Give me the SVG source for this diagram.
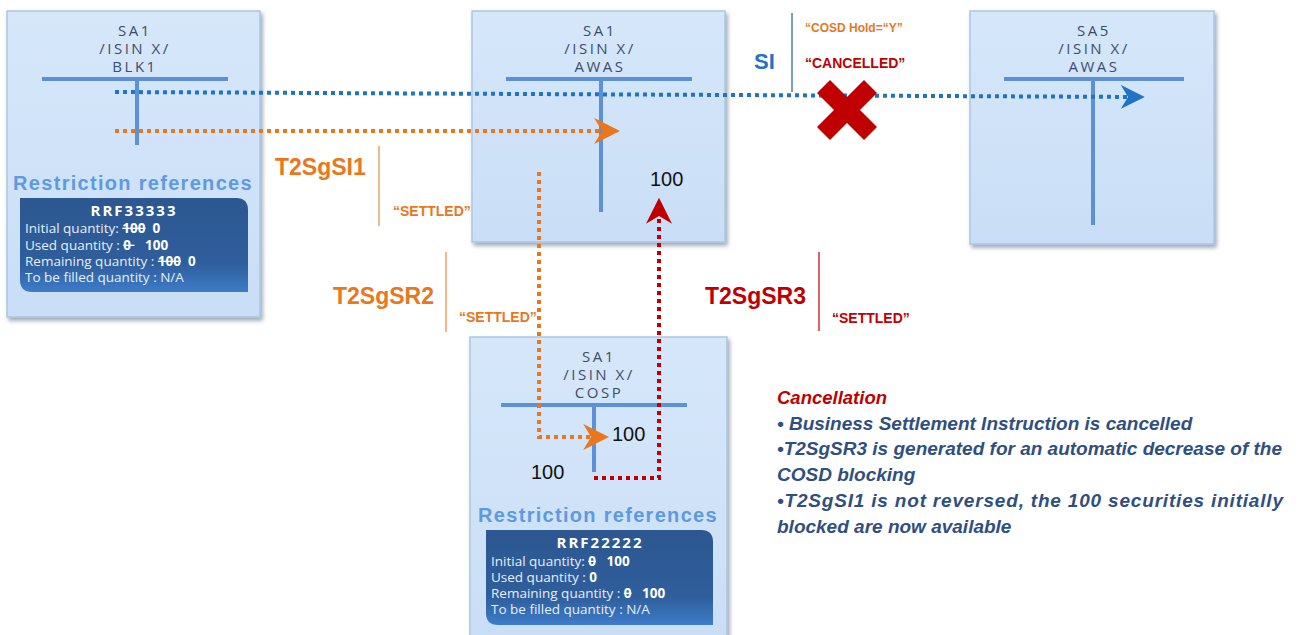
<svg xmlns="http://www.w3.org/2000/svg" width="1300" height="635" viewBox="0 0 1300 635">
<defs>
<linearGradient id="boxg" x1="0" y1="0" x2="0" y2="1"><stop offset="0" stop-color="#d6e7fa"/><stop offset="1" stop-color="#c9def6"/></linearGradient>
<linearGradient id="pang" x1="0" y1="0" x2="0" y2="1"><stop offset="0" stop-color="#2c5790"/><stop offset="0.7" stop-color="#2f5e9c"/><stop offset="1" stop-color="#3d7cc9"/></linearGradient>
<filter id="sh" x="-10%" y="-10%" width="125%" height="125%"><feDropShadow dx="2" dy="3" stdDeviation="2" flood-color="#5a6e88" flood-opacity="0.6"/></filter>
<marker id="ab" viewBox="0 0 10 10" refX="8" refY="5" markerWidth="6" markerHeight="6" orient="auto" markerUnits="strokeWidth"><path d="M0,0 L10,5 L0,10 L3,5 Z" fill="#1f74c4"/></marker>
<marker id="ao" viewBox="0 0 10 10" refX="8" refY="5" markerWidth="6.5" markerHeight="6.5" orient="auto" markerUnits="strokeWidth"><path d="M0,0 L10,5 L0,10 L3,5 Z" fill="#e8771e"/></marker>
<marker id="ar" viewBox="0 0 10 10" refX="8" refY="5" markerWidth="6.5" markerHeight="6.5" orient="auto" markerUnits="strokeWidth"><path d="M0,0 L10,5 L0,10 L3,5 Z" fill="#c00000"/></marker>
</defs>
<style>
.box{fill:url(#boxg);stroke:#aec6e2;stroke-width:1.5;filter:url(#sh)}
.ttl{font-family:"Open Sans","Liberation Sans",sans-serif;font-size:15px;fill:#3b4d6b;text-anchor:middle;letter-spacing:2.5px}
.tbar{stroke:#5c90d8;stroke-width:4;fill:none}
.rr{font-family:"Liberation Sans",sans-serif;font-weight:bold;font-size:20px;fill:#5d9ae0;text-anchor:middle;letter-spacing:1.3px}
.pan{fill:url(#pang)}
.ph{font-family:"Open Sans","Liberation Sans",sans-serif;font-weight:bold;font-size:15px;fill:#ffffff;text-anchor:middle;letter-spacing:2px}
.pt{font-family:"Open Sans","Liberation Sans",sans-serif;font-size:13.5px;fill:#e6eef8}
.pt tspan.b{font-weight:bold;fill:#ffffff}
.st{text-decoration:line-through}
.db{stroke:#1f74c4;stroke-width:4;stroke-dasharray:4 4;fill:none}
.do{stroke:#e8771e;stroke-width:4;stroke-dasharray:4 4;fill:none}
.dr{stroke:#c00000;stroke-width:4;stroke-dasharray:4 4;fill:none}
.lo{font-family:"Liberation Sans",sans-serif;font-weight:bold;font-size:23px;fill:#e8771e}
.lr{font-family:"Liberation Sans",sans-serif;font-weight:bold;font-size:23px;fill:#c00000}
.lb{font-family:"Liberation Sans",sans-serif;font-weight:bold;font-size:22px;fill:#1f74c4}
.so{font-family:"Liberation Sans",sans-serif;font-weight:bold;font-size:14px;fill:#e8771e}
.sr{font-family:"Liberation Sans",sans-serif;font-weight:bold;font-size:14px;fill:#c00000}
.num{font-family:"Liberation Sans",sans-serif;font-size:20px;fill:#111111}
.ct{font-family:"Liberation Sans",sans-serif;font-weight:bold;font-style:italic;font-size:19px;fill:#2f4f80}
</style>

<g id="node-blk1">
<rect class="box" x="7" y="11" width="253" height="306"/>
<text class="ttl" x="135" y="36">SA1</text>
<text class="ttl" x="135" y="54">/ISIN X/</text>
<text class="ttl" x="135" y="72">BLK1</text>
<line class="tbar" x1="42" y1="79" x2="228" y2="79"/>
<line class="tbar" x1="137" y1="79" x2="137" y2="145"/>
<text class="rr" x="133" y="190">Restriction references</text>
<path class="pan" d="M20,198 H236 Q248,198 248,210 V292 H32 Q20,292 20,280 Z"/>
<text class="ph" x="134" y="216">RRF33333</text>
<text class="pt" x="25" y="233" xml:space="preserve">Initial quantity: <tspan class="b st">100</tspan><tspan class="b">  0</tspan></text>
<text class="pt" x="25" y="250" xml:space="preserve">Used quantity : <tspan class="b st">0 </tspan><tspan class="b">   100</tspan></text>
<text class="pt" x="25" y="266" xml:space="preserve">Remaining quantity : <tspan class="b st">100</tspan><tspan class="b">  0</tspan></text>
<text class="pt" x="25" y="282">To be filled quantity : N/A</text>
</g>

<g id="node-awas1">
<rect class="box" x="472" y="11" width="253" height="231"/>
<text class="ttl" x="600" y="36">SA1</text>
<text class="ttl" x="600" y="54">/ISIN X/</text>
<text class="ttl" x="600" y="72">AWAS</text>
<line class="tbar" x1="506" y1="79" x2="692" y2="79"/>
<line class="tbar" x1="601" y1="79" x2="601" y2="212"/>
<text class="num" x="650" y="186">100</text>
</g>

<g id="node-sa5">
<rect class="box" x="970" y="11" width="244" height="233"/>
<text class="ttl" x="1094" y="36">SA5</text>
<text class="ttl" x="1094" y="54">/ISIN X/</text>
<text class="ttl" x="1094" y="72">AWAS</text>
<line class="tbar" x1="1004" y1="79" x2="1184" y2="79"/>
<line class="tbar" x1="1093" y1="79" x2="1093" y2="225"/>
</g>

<g id="node-cosp">
<rect class="box" x="470" y="337" width="257" height="310"/>
<text class="ttl" x="599" y="362">SA1</text>
<text class="ttl" x="599" y="380">/ISIN X/</text>
<text class="ttl" x="599" y="398">COSP</text>
<line class="tbar" x1="501" y1="405" x2="687" y2="405"/>
<line class="tbar" x1="594" y1="405" x2="594" y2="472"/>
<text class="num" x="612" y="441">100</text>
<text class="num" x="531" y="479">100</text>
<text class="rr" x="598" y="522">Restriction references</text>
<path class="pan" d="M486,530 H701 Q713,530 713,542 V625 H498 Q486,625 486,613 Z"/>
<text class="ph" x="600" y="548">RRF22222</text>
<text class="pt" x="491" y="566" xml:space="preserve">Initial quantity: <tspan class="b st">0</tspan><tspan class="b">   100</tspan></text>
<text class="pt" x="491" y="582" xml:space="preserve">Used quantity : <tspan class="b">0</tspan></text>
<text class="pt" x="491" y="598" xml:space="preserve">Remaining quantity : <tspan class="b st">0</tspan><tspan class="b">   100</tspan></text>
<text class="pt" x="491" y="614">To be filled quantity : N/A</text>
</g>

<g id="connectors">
<line class="db" x1="115" y1="92" x2="1140" y2="97" marker-end="url(#ab)"/>
<line class="do" x1="115" y1="131" x2="615" y2="131" marker-end="url(#ao)"/>
<path class="do" d="M539,172 V437 H604" marker-end="url(#ao)"/>
<path class="dr" d="M594,478 H659 V203" marker-end="url(#ar)"/>
</g>

<g id="labels">
<text class="lb" x="754" y="69">SI</text>
<line x1="792" y1="13" x2="792" y2="92" stroke="#4a7fc4" stroke-width="1.5"/>
<text class="so" x="805" y="32" style="font-size:12px">“COSD Hold=“Y”</text>
<text class="sr" x="805" y="68">“CANCELLED”</text>
<path d="M830,80 L847,97 L864,80 L877,93 L860,110 L877,127 L864,140 L847,123 L830,140 L817,127 L834,110 L817,93 Z" fill="#c00000"/>
<text class="lo" x="275" y="175">T2SgSI1</text>
<line x1="379" y1="146" x2="379" y2="226" stroke="#f0a060" stroke-width="1.5"/>
<text class="so" x="393" y="216">“SETTLED”</text>
<text class="lo" x="333" y="304">T2SgSR2</text>
<line x1="446" y1="252" x2="446" y2="332" stroke="#f0a060" stroke-width="1.5"/>
<text class="so" x="459" y="322">“SETTLED”</text>
<text class="lr" x="705" y="304">T2SgSR3</text>
<line x1="819" y1="252" x2="819" y2="331" stroke="#d03030" stroke-width="1.5"/>
<text class="sr" x="832" y="323">“SETTLED”</text>
</g>

<g id="cancellation">
<text class="ct" x="777" y="404" style="fill:#c00000;font-size:18.5px">Cancellation</text>
<text class="ct" x="777" y="430">• Business Settlement Instruction is cancelled</text>
<text class="ct" x="777" y="455">•T2SgSR3 is generated for an automatic decrease of the</text>
<text class="ct" x="777" y="481">COSD blocking</text>
<text class="ct" x="777" y="507" textLength="506" lengthAdjust="spacing">•T2SgSI1 is not reversed, the 100 securities initially</text>
<text class="ct" x="777" y="533">blocked are now available</text>
</g>
</svg>
